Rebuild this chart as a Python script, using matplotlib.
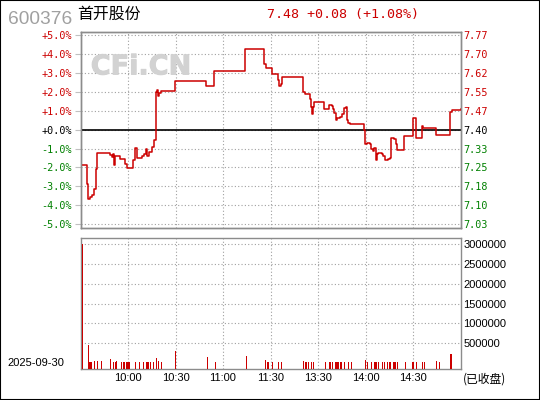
import matplotlib.pyplot as plt
import matplotlib.patheffects as pe
from matplotlib.patches import Rectangle

plt.rcParams['font.family'] = ['Liberation Sans', 'Noto Sans CJK SC', 'DejaVu Sans']

# stock info
code = "600376"
name = "首开股份"
trade_date = "2025-09-30"
status = "(已收盘)"
prev_close = 7.40
last_price = 7.48

# intraday price: minute from 9:30 (afternoon continues after 120) and change in %
price_min = [1, 4.3, 5, 6, 7, 8.5, 9.6, 10.6, 18.6, 19.7, 20.7, 21.4, 22, 25, 28.1, 29.6,
             33.4, 34.2, 35.9, 38.6, 40.1, 41.2, 42, 43.3, 45.4, 46.2, 47.5, 48.3, 49.0,
             49.8, 50.9, 59.7, 79.3, 84.3, 104.1, 115.9, 117, 121.2, 125, 125.6, 126.5,
             127.1, 140.4, 141.8, 143.9, 145, 145.6, 146, 146.7, 147.3, 154, 157.2, 158.7,
             159.7, 160.3, 161.4, 162.2, 163.9, 165.2, 166.7, 167.5, 168.1, 169.2, 170.2,
             179.1, 179.7, 180.8, 182.9, 183.5, 185, 185.6, 186.5, 187.1, 188.2, 190.7,
             191.3, 192.4, 194.1, 195.5, 196.2, 198.3, 199.1, 200.2, 204.6, 209.7, 211.8,
             215.6, 216.6, 224.6, 233.5, 234.5, 240]
price_pct = [-1.89, -2.86, -3.66, -3.57, -3.48, -3.13, -2.07, -1.24, -1.33, -1.45, -1.28, -1.89,
             -1.38, -1.54, -1.80, -2.03, -1.63, -0.96, -1.50, -1.42, -1.27, -1.01, -1.42,
             -1.20, -0.92, -0.57, 1.99, 2.12, 1.78, 1.94, 2.03, 2.56, 2.30, 3.09, 4.30, 3.50,
             3.27, 2.97, 2.65, 2.30, 2.44, 2.79, 1.99, 1.91, 1.87, 1.64, 1.20, 0.81, 1.20,
             1.48, 1.11, 1.29, 1.24, 1.11, 0.88, 0.53, 0.64, 0.67, 0.85, 1.17, 1.20, 0.49,
             0.37, 0.28, -0.04, -0.74, -0.69, -0.74, -1.01, -1.13, -0.97, -1.63, -1.31,
             -1.24, -1.31, -1.42, -1.63, -1.54, -1.50, -0.43, -0.48, -0.74, -1.10, -0.32,
             0.64, -0.43, 0.19, 0.10, -0.30, 0.93, 1.05, 1.08]

# volume per minute
vol_min = [1, 5, 6, 7, 9, 11, 13, 19, 21, 22, 23, 26, 27, 28, 29, 30, 31, 35, 37, 40,
           42, 43, 44, 46, 48, 49, 51, 60, 80, 85, 105, 117, 118, 119, 121, 125, 127, 141,
           142, 143, 144, 146, 147, 155, 157, 158, 159, 161, 162, 163, 164, 165, 167, 169,
           171, 180, 181, 184, 186, 187, 188, 191, 192, 194, 195, 196, 198, 199, 200, 205,
           210, 212, 216, 217, 225, 227, 234]
vol = [3000000, 457000, 25000, 25000, 55000, 55000, 55000, 105000, 15000, 15000, 40000,
       30000, 15000, 15000, 30000, 20000, 15000, 30000, 15000, 15000,
       15000, 15000, 15000, 15000, 130000, 55000, 30000, 315000, 155000, 30000, 180000,
       80000, 15000, 15000, 15000, 15000, 15000, 55000,
       15000, 15000, 15000, 15000, 30000, 30000, 15000, 15000, 15000, 15000, 15000, 15000,
       15000, 15000, 15000, 15000,
       30000, 80000, 15000, 15000, 15000, 15000, 15000, 30000, 15000, 15000, 15000, 15000,
       15000, 15000, 15000, 30000,
       30000, 15000, 30000, 15000, 55000, 15000, 230000]

pct_ticks = [5, 4, 3, 2, 1, 0, -1, -2, -3, -4, -5]
time_ticks = [30, 60, 90, 120, 150, 180, 210]
time_labels = ["10:00", "10:30", "11:00", "11:30", "13:30", "14:00", "14:30"]
vol_ticks = [500000, 1000000, 1500000, 2000000, 2500000, 3000000]

RED = '#cc0000'
GREEN = '#008000'
GRID = '#a0a0a0'
SPINE = '#8c8c8c'
dots = (0, (1, 2))

fig = plt.figure(figsize=(5.4, 4), dpi=100)
fig.patches.append(Rectangle((0, 0), 1, 1, transform=fig.transFigure, fill=False,
                             ec='black', lw=1.5))

# ---- price panel
ax = fig.add_axes([80.5 / 540, 1 - 227.7 / 400, 380 / 540, 196 / 400])
ax.set_xlim(0, 240)
ax.set_ylim(-5.2, 5.2)
ax.set_yticks(pct_ticks)
ax.set_xticks(time_ticks)
ax.grid(True, color=GRID, lw=0.8, ls=dots)
ax.axhline(0, color='black', lw=1.2, zorder=3)
ax.plot(price_min, price_pct, drawstyle='steps-post', color=RED, lw=1.1, zorder=4)
ax.text(0.027, 0.782, "CFi.CN", transform=ax.transAxes, fontsize=19.5,
        fontweight='bold', family='DejaVu Sans', color='#d2d2d2', va='baseline', zorder=2,
        path_effects=[pe.withStroke(linewidth=0.7, foreground='#d2d2d2')])

ax.tick_params(axis='x', length=0, labelbottom=False)
ax.tick_params(axis='y', length=4, width=0.8, color='#c0c0c0', pad=2)
ax.set_yticklabels([f"{p:+.1f}%" for p in pct_ticks], family='DejaVu Sans Mono', fontsize=7.3)
for lab, p in zip(ax.get_yticklabels(), pct_ticks):
    lab.set_color(RED if p > 0 else (GREEN if p < 0 else 'black'))

ax2 = ax.twinx()
ax2.set_ylim(ax.get_ylim())
ax2.set_yticks(pct_ticks)
ax2.set_yticklabels([f"{prev_close * (1 + p / 100):.2f}" for p in pct_ticks],
                    family='DejaVu Sans Mono', fontsize=7.3)
ax2.tick_params(axis='y', length=0, pad=2)
for lab, p in zip(ax2.get_yticklabels(), pct_ticks):
    lab.set_color(RED if p > 0 else (GREEN if p < 0 else 'black'))

for a in (ax, ax2):
    for s in a.spines.values():
        s.set_color(SPINE)
        s.set_linewidth(1.0)

# ---- volume panel
axv = fig.add_axes([80.5 / 540, 1 - 369.3 / 400, 380 / 540, 131 / 400])
floor = -157000
axv.bar(vol_min, [v - floor for v in vol], bottom=floor, width=0.7, color=RED, zorder=3)
axv.set_xlim(0, 240)
axv.set_ylim(floor, 3150000)
axv.set_xticks(time_ticks)
axv.set_xticklabels(time_labels, fontsize=8)
axv.set_yticks(vol_ticks)
axv.set_yticklabels([str(v) for v in vol_ticks], fontsize=8)
axv.yaxis.tick_right()
axv.tick_params(length=0)
axv.tick_params(axis='y', pad=2)
axv.tick_params(axis='x', pad=3)
axv.grid(True, color=GRID, lw=0.8, ls=dots)
for s in axv.spines.values():
    s.set_color(SPINE)
    s.set_linewidth(1.0)

# ---- header and footer texts
fig.text(8 / 540, 1 - 24.3 / 400, code, fontsize=13.8, color='#a0a0a0', va='baseline')
fig.text(77.5 / 540, 1 - 14 / 400, name, fontsize=11.4, family='Noto Sans CJK SC',
         va='center')
chg = last_price - prev_close
fig.text(267 / 540, 1 - 18.3 / 400,
         f"{last_price:.2f} {chg:+.2f} ({chg / prev_close * 100:+.2f}%)",
         fontsize=9.6, family='DejaVu Sans Mono', color=RED, va='baseline')
fig.text(7 / 540, 1 - 363 / 400, trade_date, fontsize=8, va='center')
fig.text(463 / 540, 1 - 379 / 400, status, fontsize=8.5,
         family=['Noto Sans CJK SC', 'DejaVu Sans'], va='center')

fig.savefig('out.png', dpi=100)
